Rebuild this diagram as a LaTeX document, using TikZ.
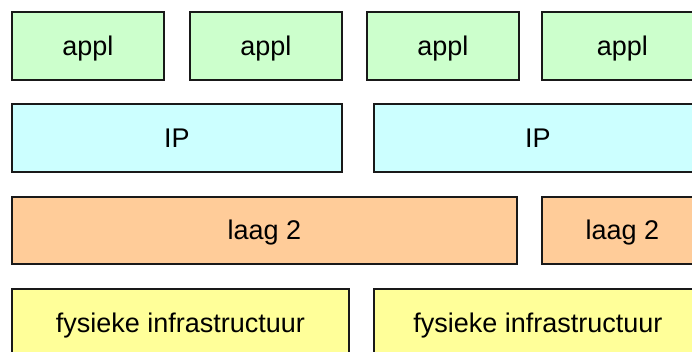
\documentclass[tikz,border=0pt]{standalone}
\usepackage{fontspec}
\setmainfont{Liberation Sans}
\usetikzlibrary{positioning}

\definecolor{applgreen}{HTML}{CCFFCC}
\definecolor{ipcyan}{HTML}{CCFFFF}
\definecolor{laagorange}{HTML}{FFCC99}
\definecolor{fysyellow}{HTML}{FFFF99}

\tikzset{
  layer/.style={draw=black!90, line width=1.6pt, anchor=north west, inner sep=0pt,
    text height=19pt, text depth=0pt, font=\fontsize{27}{32}\selectfont},
  appl/.style={layer, fill=applgreen, minimum width=152pt, minimum height=68pt},
  ip/.style={layer, fill=ipcyan, minimum height=68pt},
  laag/.style={layer, fill=laagorange, minimum height=67pt},
  fys/.style={layer, fill=fysyellow, minimum height=68pt},
}

\begin{document}
\begin{tikzpicture}[x=1pt, y=-1pt]
\useasboundingbox (0,0) rectangle (692,352);
\clip (0,0) rectangle (692,352);
% applicaties
\node[appl] (appl1) at (11,11) {appl};
\node[appl] (appl2) at (189,11) {appl};
\node[appl] (appl3) at (366,11) {appl};
\node[appl, minimum width=161pt] (appl4) at (541,11) {appl};
% IP
\node[ip, minimum width=330pt] (ip1) at (11,103) {IP};
\node[ip, minimum width=328pt] (ip2) at (373,103) {IP};
% laag 2
\node[laag, minimum width=505pt] (laag1) at (11,196) {laag 2};
\node[laag, minimum width=161pt] (laag2) at (541,196) {laag 2};
% fysieke infrastructuur
\node[fys, minimum width=337pt] (fys1) at (11,288) {fysieke infrastructuur};
\node[fys, minimum width=328pt] (fys2) at (373,288) {fysieke infrastructuur};
\end{tikzpicture}
\end{document}
